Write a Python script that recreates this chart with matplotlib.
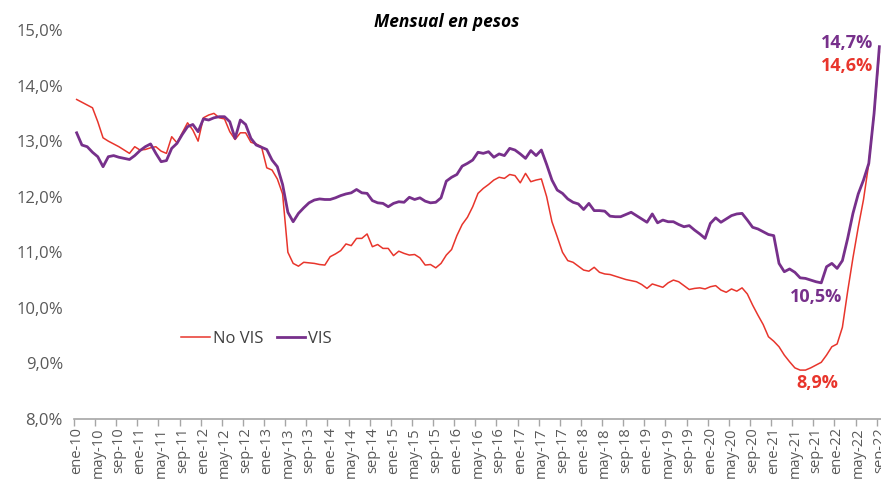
import matplotlib
matplotlib.use("Agg")
import matplotlib.pyplot as plt
from matplotlib.ticker import FixedLocator, FuncFormatter

plt.rcParams['font.family'] = ['Open Sans', 'DejaVu Sans']

# --- data -------------------------------------------------------------
meses = ['ene', 'feb', 'mar', 'abr', 'may', 'jun', 'jul', 'ago', 'sep', 'oct', 'nov', 'dic']
fechas = [f"{m}-{y:02d}" for y in range(10, 23) for m in meses][:153]  # ene-10 .. sep-22

no_vis = [
    13.75, 13.70, 13.65, 13.60, 13.35, 13.06, 13.00, 12.95, 12.90, 12.84,
    12.78, 12.90, 12.84, 12.85, 12.88, 12.90, 12.82, 12.78, 13.08, 12.97,
    13.15, 13.33, 13.20, 13.00, 13.42, 13.47, 13.50, 13.42, 13.40, 13.17,
    13.03, 13.15, 13.15, 12.98, 12.95, 12.90, 12.52, 12.48, 12.32, 12.05,
    11.00, 10.80, 10.75, 10.82, 10.81, 10.80, 10.78, 10.77, 10.92, 10.97,
    11.03, 11.15, 11.12, 11.25, 11.25, 11.33, 11.10, 11.14, 11.07, 11.07,
    10.94, 11.02, 10.98, 10.95, 10.96, 10.90, 10.77, 10.78, 10.72, 10.80,
    10.95, 11.05, 11.30, 11.50, 11.63, 11.82, 12.06, 12.15, 12.22, 12.30,
    12.35, 12.33, 12.40, 12.38, 12.25, 12.42, 12.27, 12.30, 12.32, 12.00,
    11.55, 11.28, 11.00, 10.85, 10.82, 10.75, 10.68, 10.66, 10.73, 10.64,
    10.61, 10.60, 10.57, 10.54, 10.51, 10.49, 10.47, 10.42, 10.35, 10.43,
    10.40, 10.37, 10.45, 10.50, 10.47, 10.40, 10.33, 10.35, 10.36, 10.34,
    10.38, 10.40, 10.32, 10.28, 10.34, 10.30, 10.36, 10.25, 10.05, 9.87,
    9.70, 9.48, 9.40, 9.30, 9.15, 9.03, 8.92, 8.88, 8.88, 8.92,
    8.97, 9.02, 9.15, 9.30, 9.35, 9.65, 10.30, 10.90, 11.45, 11.95,
    12.60, 13.50, 14.60,
]

vis = [
    13.15, 12.93, 12.90, 12.80, 12.72, 12.54, 12.72, 12.74, 12.71, 12.69,
    12.67, 12.74, 12.83, 12.90, 12.95, 12.78, 12.63, 12.65, 12.87, 12.96,
    13.12, 13.26, 13.30, 13.17, 13.40, 13.38, 13.42, 13.44, 13.44, 13.35,
    13.05, 13.38, 13.30, 13.05, 12.93, 12.89, 12.85, 12.66, 12.54, 12.22,
    11.72, 11.55, 11.70, 11.80, 11.89, 11.94, 11.96, 11.95, 11.95, 11.98,
    12.02, 12.05, 12.07, 12.13, 12.07, 12.06, 11.93, 11.89, 11.88, 11.82,
    11.88, 11.91, 11.90, 11.99, 11.95, 11.98, 11.92, 11.89, 11.90, 11.98,
    12.28, 12.35, 12.40, 12.55, 12.60, 12.66, 12.80, 12.78, 12.81, 12.71,
    12.77, 12.74, 12.87, 12.84, 12.77, 12.69, 12.83, 12.74, 12.84, 12.58,
    12.30, 12.12, 12.06, 11.96, 11.90, 11.87, 11.77, 11.88, 11.75, 11.75,
    11.74, 11.65, 11.64, 11.64, 11.68, 11.72, 11.66, 11.60, 11.54, 11.69,
    11.53, 11.58, 11.55, 11.55, 11.50, 11.46, 11.48, 11.40, 11.33, 11.25,
    11.52, 11.62, 11.54, 11.60, 11.66, 11.69, 11.70, 11.58, 11.45, 11.42,
    11.37, 11.32, 11.30, 10.80, 10.65, 10.70, 10.64, 10.54, 10.53, 10.50,
    10.47, 10.45, 10.74, 10.80, 10.71, 10.85, 11.25, 11.70, 12.05, 12.30,
    12.60, 13.50, 14.70,
]

y_ticks = [8, 9, 10, 11, 12, 13, 14, 15]
etiquetas = ["14,7%", "14,6%", "10,5%", "8,9%"]

# --- style -------------------------------------------------------------
RED = '#E8352C'
PURPLE = '#77308B'
GRAY = '#595959'

fig = plt.figure(figsize=(8.81, 4.93), dpi=100)
ax = fig.add_axes([74/881, 1 - 419/493, 808/881, 389/493])

x = list(range(len(fechas)))
ax.plot(x, no_vis, color=RED, lw=1.1, label='No VIS', solid_joinstyle='round')
ax.plot(x, vis, color=PURPLE, lw=2.0, label='VIS', solid_joinstyle='round')

ax.set_xlim(-0.5, len(fechas) - 0.5)
ax.set_ylim(8, 15)

ax.set_yticks(y_ticks)
ax.yaxis.set_major_formatter(FuncFormatter(lambda v, p: f"{v:.1f}%".replace('.', ',')))
ax.tick_params(axis='y', length=0, labelsize=12, labelcolor=GRAY, pad=8)

lab_pos = list(range(0, len(fechas), 4))
ax.set_xticks(lab_pos)
ax.set_xticklabels([fechas[i] for i in lab_pos], rotation=90)
ax.tick_params(axis='x', which='major', length=0, labelsize=10.5, labelcolor=GRAY, pad=6)
ax.xaxis.set_minor_locator(FixedLocator([i - 0.5 for i in lab_pos]))
ax.tick_params(axis='x', which='minor', length=5, width=1, color='#A6A6A6')

for s in ['top', 'right', 'left']:
    ax.spines[s].set_visible(False)
ax.spines['bottom'].set_color('#A6A6A6')
ax.spines['bottom'].set_linewidth(1.2)

leg = ax.legend(loc='center', bbox_to_anchor=(0.226, 0.205), ncol=2, frameon=False,
                fontsize=12, handlelength=1.7, handletextpad=0.2, columnspacing=0.8)
for t in leg.get_texts():
    t.set_color('#404040')

fig.text(447/881, 1 - 22/493, 'Mensual en pesos', ha='center', va='center',
         fontsize=12.5, fontweight='bold', fontstyle='italic', color='black')

# annotations
n = len(fechas) - 1
ax.annotate(etiquetas[0], xy=(n, vis[n]), xytext=(873/881, 1 - 43/493), textcoords='figure fraction',
            ha='right', va='center', fontsize=13, fontweight='bold', color=PURPLE)
ax.annotate(etiquetas[1], xy=(n, no_vis[n]), xytext=(873/881, 1 - 66/493), textcoords='figure fraction',
            ha='right', va='center', fontsize=13, fontweight='bold', color=RED)
i_min_vis = vis.index(min(vis[120:]))
ax.annotate(etiquetas[2], xy=(i_min_vis, vis[i_min_vis]), xytext=(816/881, 1 - 297/493),
            textcoords='figure fraction', ha='center', va='center', fontsize=13, fontweight='bold', color=PURPLE)
i_min_nv = no_vis.index(min(no_vis))
ax.annotate(etiquetas[3], xy=(i_min_nv, no_vis[i_min_nv]), xytext=(817/881, 1 - 383/493),
            textcoords='figure fraction', ha='center', va='center', fontsize=13, fontweight='bold', color=RED)

fig.savefig('out.png', dpi=100)
